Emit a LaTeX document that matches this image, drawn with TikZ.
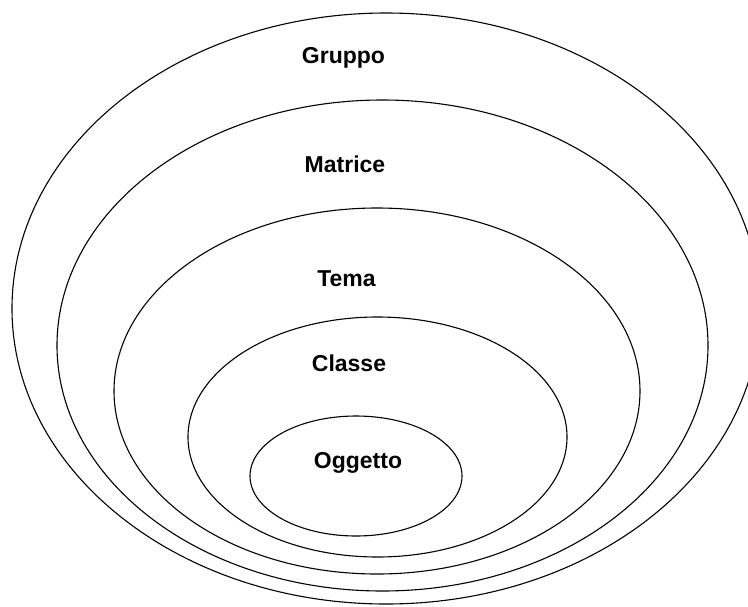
\documentclass[tikz,border=0pt]{standalone}
\usepackage{fontspec}
\setmainfont{Liberation Sans}
\begin{document}
\begin{tikzpicture}[x=1pt,y=-1pt,
  ring/.style={draw=black,line width=1.1pt},
  lbl/.style={anchor=base,inner sep=0pt,font=\fontsize{23}{27}\selectfont\bfseries}]
\useasboundingbox (0,0) rectangle (748,606);
\begin{scope}
\clip (0,0) rectangle (748,606);
\draw[ring] (386,308.5) ellipse [x radius=374pt, y radius=295.5pt];
\end{scope}
\draw[ring] (382.5,345.5) ellipse [x radius=325.5pt, y radius=245.5pt];
\draw[ring] (377,391) ellipse [x radius=263pt, y radius=183pt];
\draw[ring] (377.5,437) ellipse [x radius=189.5pt, y radius=120pt];
\draw[ring] (356,476) ellipse [x radius=106pt, y radius=60pt];
\node[lbl] (gruppo) at (343.5,63) {Gruppo};
\node[lbl] (matrice) at (345,172.7) {Matrice};
\node[lbl] (tema) at (346.5,286) {Tema};
\node[lbl] (classe) at (349,371.7) {Classe};
\node[lbl] (oggetto) at (358,468) {Oggetto};
\end{tikzpicture}
\end{document}
